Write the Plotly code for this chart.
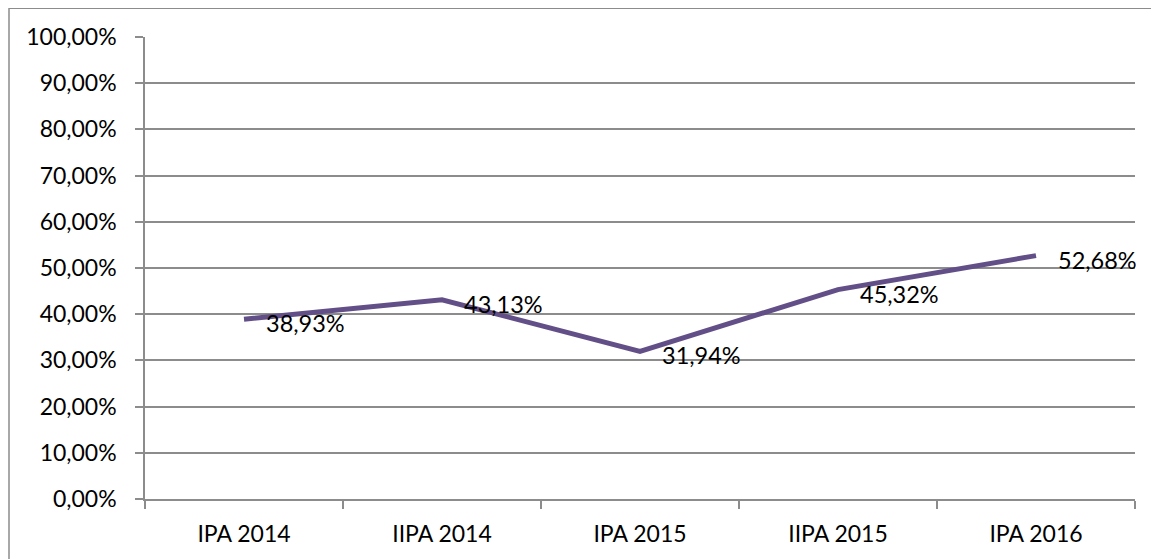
import plotly.graph_objects as go

categories = ["IPA 2014", "IIPA 2014", "IPA 2015", "IIPA 2015", "IPA 2016"]
values = [0.3893, 0.4313, 0.3194, 0.4532, 0.5268]
labels = ["38,93%", "43,13%", "31,94%", "45,32%", "52,68%"]
y_ticks = [i / 10 for i in range(11)]
y_tick_labels = [f"{i*10},00%" for i in range(11)]

FONT = "Lato, Carlito, Calibri, sans-serif"
GRID = "#8c8c8c"
LINE = "#634f87"

W, H = 1151, 551
L, T = 137, 29
PW, PH = 990, 462

fig = go.Figure()
fig.add_trace(go.Scatter(
    x=categories, y=values, mode="lines",
    line=dict(color=LINE, width=5), hoverinfo="skip", showlegend=False,
))

for c, v, t in zip(categories, values, labels):
    fig.add_annotation(x=c, y=v, text=t, showarrow=False, xanchor="left",
                       yanchor="middle", xshift=20, yshift=-4,
                       font=dict(family=FONT, size=23.5, color="#000000"))

fig.update_layout(
    width=W, height=H,
    margin=dict(l=L, r=W - L - PW, t=T, b=H - T - PH),
    paper_bgcolor="white", plot_bgcolor="white",
    font=dict(family=FONT, size=23, color="#000000"),
    showlegend=False,
    xaxis=dict(
        type="category", range=[-0.5, 4.5],
        showgrid=False, showline=True, linecolor=GRID, linewidth=1.5,
        ticks="outside", tickson="boundaries", ticklen=8, tickcolor=GRID, tickwidth=1.5,
        tickfont=dict(family=FONT, size=23, color="#000000"),
        zeroline=False, ticklabelstandoff=14,
    ),
    yaxis=dict(
        range=[0, 1], tickvals=y_ticks, ticktext=y_tick_labels,
        showgrid=True, gridcolor=GRID, gridwidth=1.5,
        showline=True, linecolor=GRID, linewidth=1.5,
        ticks="outside", ticklen=8, tickcolor=GRID, tickwidth=1.5,
        tickfont=dict(family=FONT, size=23, color="#000000"),
        zeroline=False, ticklabelstandoff=14,
    ),
    shapes=[dict(
        type="rect", xref="paper", yref="paper",
        x0=(1 - L) / PW, x1=(W + 20 - L) / PW,
        y0=-(H + 20 - T - PH) / PH, y1=1 + (T - 0) / PH - 0.0005,
        line=dict(color="#8c8c8c", width=1.5), fillcolor="rgba(0,0,0,0)", layer="below",
    )],
)

fig.write_html("out.html")
